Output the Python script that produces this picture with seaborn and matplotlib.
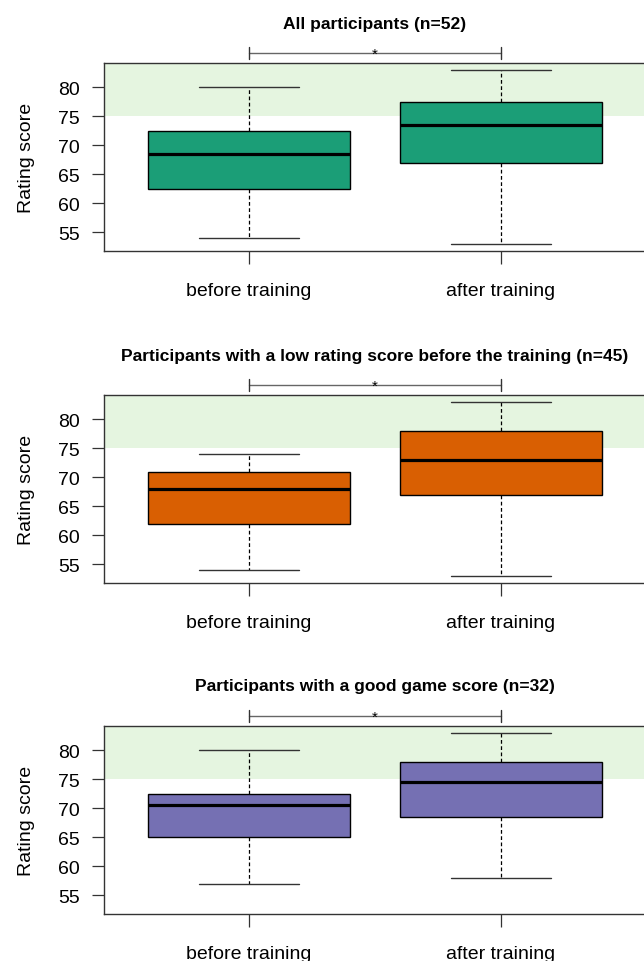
import numpy as np
import pandas as pd
import matplotlib
matplotlib.use("Agg")
import matplotlib.pyplot as plt
import seaborn as sns

# five-number summaries (min, Q1, median, Q3, max)
stages = ["before training", "after training"]

all_before = [54, 62.5, 68.5, 72.5, 80]
all_after = [53, 67, 73.5, 77.5, 83]

low_before = [54, 62, 68, 71, 74]
low_after = [53, 67, 73, 78, 83]

good_before = [57, 65, 70.5, 72.5, 80]
good_after = [58, 68.5, 74.5, 78, 83]

titles = [
    "All participants (n=52)",
    "Participants with a low rating score before the training (n=45)",
    "Participants with a good game score (n=32)",
]
yticks = [55, 60, 65, 70, 75, 80]
good_zone = 75

sns.set_theme(style="white")
plt.rcParams['font.family'] = ['Liberation Sans', 'DejaVu Sans']
plt.rcParams['text.color'] = 'black'
plt.rcParams['axes.labelcolor'] = 'black'
plt.rcParams['xtick.color'] = 'black'
plt.rcParams['ytick.color'] = 'black'

colors = sns.color_palette("Dark2")[:3]
groups = [(all_before, all_after), (low_before, low_after), (good_before, good_after)]

fig = plt.figure(figsize=(6.44, 9.62), dpi=100)

# axes boxes in pixel coordinates (top, bottom)
W, H = 644, 962
rows = [(64, 252), (396, 584), (727, 915)]
left_px, right_px = 103.5, 646.5

for (top, bottom), (before, after), col, title in zip(rows, groups, colors, titles):
    ax = fig.add_axes([left_px / W, 1 - bottom / H,
                       (right_px - left_px) / W, (bottom - top) / H])
    df = pd.DataFrame({
        "stage": [stages[0]] * len(before) + [stages[1]] * len(after),
        "score": before + after,
    })
    ax.axhspan(good_zone, 100, color="#e5f5e0", zorder=0, lw=0)
    sns.boxplot(data=df, x="stage", y="score", order=stages, color=col,
                saturation=1, width=0.8, whis=(0, 100), linecolor="black",
                linewidth=1, ax=ax,
                medianprops=dict(linewidth=2.3, color="black"),
                whiskerprops=dict(linestyle=(0, (3, 2)), linewidth=0.9, color="black"),
                capprops=dict(linewidth=1, color="#333333"))
    ax.set_xlim(-0.577, 1.577)
    ax.set_ylim(51.8, 84.2)
    ax.set_yticks(yticks)
    ax.set_xlabel("")
    ax.set_ylabel("Rating score", fontsize=14, labelpad=17)
    ax.tick_params(axis="both", which="both", labelsize=14, length=9,
                   width=0.9, bottom=True, left=True)
    ax.tick_params(axis="both", color="#333333")
    ax.tick_params(axis="x", pad=13)
    ax.tick_params(axis="y", pad=8)
    for s in ax.spines.values():
        s.set_color("#333333")
        s.set_linewidth(1)

    # significance bracket
    by = 86.0
    ax.plot([0, 1], [by, by], color="#666666", lw=1, clip_on=False)
    for xb in (0, 1):
        ax.plot([xb, xb], [by - 1.03, by + 1.03], color="#333333", lw=1, clip_on=False)
    ax.annotate("*", xy=(0.5, by), xytext=(0, -4), textcoords="offset points",
                ha="center", va="baseline", fontsize=11, annotation_clip=False)

    fig.text((left_px + right_px) / 2 / W, 1 - (top - 40) / H, title,
             ha="center", va="center", fontsize=12.5, fontweight="bold")

fig.savefig("out.png", dpi=100)
